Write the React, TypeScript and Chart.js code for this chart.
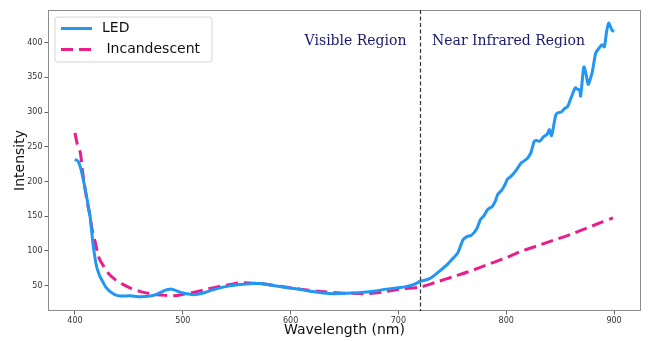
import React, { useEffect, useRef } from 'react';
import { Chart, registerables } from 'chart.js';

Chart.register(...registerables);

const ledWavelengths = [400,403,406,409,412,414,417,420,423,425,429,433,437,442,451,460,470,475,479,484,488,492,496,500,505,510,515,519,528,541,553,565,572,585,597,609,620,630,640,652,665,677,689,700,708,714,720,726,730,735,739,745,751,755,760,764,767,770,773,776,779,783,787,790,792,796,799,801,804,807,810,814,817,820,823,826,828,831,835,838,840,842,846,848,851,854,857,860,864,866,868,869,872,874,876,878,880,883,886,889,891,893,895,897,898,900];
const ledIntensity = [232,229,215,193,168,150,107,78,64,58,47,41,37,35,35.5,34,35,37,40,43.5,45,44,41.5,39.5,38,37,38,39.5,44,49,51.5,53,53,50,47,44.5,41.5,39.5,38.5,39,40,42,45,47,49,51.5,56,58.5,61,67,72,80,90,97,116,121,122,126,133,145,150,160,164,172,181,188,196,203,207,212,218,227,230,234,242,258,259,258,265,268,275,266,296,299,300,305,308,320,335,333,332,323,365,355,340,348,359,385,392,397,394,415,428,422,418,416];

const incWavelengths = [400,402,405,407,409,412,414,416,419,421,423,427,432,438,445,452,460,468,476,484,491,499,507,515,522,530,538,545,553,562,572,590,609,628,646,660,671,686,702,720,735,751,765,782,798,814,830,845,860,875,888,899];
const incIntensity = [270,255,241,215,193,165,150,130,111.5,97,87.5,77,66,58,51.4,46,41.8,39,37,36,35.6,37,39.5,42,45,47.5,50,52,54,54,53,49,45,41.5,39.5,38.8,38.5,41,45,48,55,63,70,80,89,99.5,108,116,124,133,141,147.5];

const xTicks = [400, 500, 600, 700, 800, 900];
const yTicks = [50, 100, 150, 200, 250, 300, 350, 400];
const seriesLabels = ['LED', ' Incandescent'];
const regionLabels = ['Visible Region', 'Near Infrared Region'];
const boundaryWavelength = 720;

const LED_COLOR = '#2196F3';
const INC_COLOR = '#E91E8C';
const INC_DASH = [12, 6];

const overlayPlugin = {
  id: 'overlay',
  afterDraw(chart: any) {
    const { ctx, chartArea, scales } = chart;
    const xs = scales.x;
    ctx.save();
    // frame
    ctx.strokeStyle = '#8c8c8c';
    ctx.lineWidth = 1;
    ctx.setLineDash([]);
    ctx.strokeRect(chartArea.left + 0.5, chartArea.top + 0.5, chartArea.right - chartArea.left - 1, chartArea.bottom - chartArea.top - 1);

    // boundary line
    const bx = Math.round(xs.getPixelForValue(boundaryWavelength)) + 0.5;
    ctx.strokeStyle = '#333';
    ctx.lineWidth = 1.2;
    ctx.setLineDash([4, 2.5]);
    ctx.beginPath();
    ctx.moveTo(bx, chartArea.top);
    ctx.lineTo(bx, chartArea.bottom);
    ctx.stroke();
    ctx.setLineDash([]);

    // region labels
    ctx.font = '14px "DejaVu Serif"';
    ctx.fillStyle = '#191970';
    ctx.textBaseline = 'alphabetic';
    ctx.textAlign = 'right';
    ctx.fillText(regionLabels[0], bx - 14, 44.5);
    ctx.textAlign = 'left';
    ctx.fillText(regionLabels[1], bx + 11.5, 44.5);

    // legend
    const lx = 55, ly = 17, lw = 157, lh = 45;
    ctx.beginPath();
    const r = 3;
    ctx.moveTo(lx + r, ly);
    ctx.lineTo(lx + lw - r, ly);
    ctx.quadraticCurveTo(lx + lw, ly, lx + lw, ly + r);
    ctx.lineTo(lx + lw, ly + lh - r);
    ctx.quadraticCurveTo(lx + lw, ly + lh, lx + lw - r, ly + lh);
    ctx.lineTo(lx + r, ly + lh);
    ctx.quadraticCurveTo(lx, ly + lh, lx, ly + lh - r);
    ctx.lineTo(lx, ly + r);
    ctx.quadraticCurveTo(lx, ly, lx + r, ly);
    ctx.closePath();
    ctx.fillStyle = 'rgba(255,255,255,0.85)';
    ctx.fill();
    ctx.strokeStyle = '#d6d6d6';
    ctx.lineWidth = 1;
    ctx.stroke();

    const rows = [
      { y: 28.5, color: LED_COLOR, dash: [] as number[] },
      { y: 49.5, color: INC_COLOR, dash: INC_DASH },
    ];
    rows.forEach((row, i) => {
      ctx.strokeStyle = row.color;
      ctx.lineWidth = 3;
      ctx.setLineDash(row.dash);
      ctx.beginPath();
      ctx.moveTo(61, row.y);
      ctx.lineTo(92, row.y);
      ctx.stroke();
      ctx.setLineDash([]);
      ctx.font = '14px "DejaVu Sans"';
      ctx.fillStyle = '#111';
      ctx.textAlign = 'left';
      ctx.textBaseline = 'middle';
      ctx.fillText(seriesLabels[i], 102, row.y);
    });
    ctx.restore();
  },
};

export default function App() {
  const canvasRef = useRef<HTMLCanvasElement | null>(null);

  useEffect(() => {
    document.body.style.margin = '0';
    const canvas = canvasRef.current;
    if (!canvas) return;
    const tickFont = { family: 'DejaVu Sans', size: 8 };
    const titleFont = { family: 'DejaVu Sans', size: 14 };
    const chart = new Chart(canvas, {
      type: 'line',
      data: {
        datasets: [
          {
            label: seriesLabels[0],
            data: ledWavelengths.map((x, i) => ({ x, y: ledIntensity[i] })),
            borderColor: LED_COLOR,
            borderWidth: 3,
            pointRadius: 0,
            tension: 0.25,
            fill: false,
          },
          {
            label: seriesLabels[1],
            data: incWavelengths.map((x, i) => ({ x, y: incIntensity[i] })),
            borderColor: INC_COLOR,
            borderWidth: 3,
            borderDash: INC_DASH,
            pointRadius: 0,
            tension: 0.3,
            fill: false,
          },
        ],
      },
      options: {
        responsive: false,
        animation: false,
        devicePixelRatio: 1,
        layout: { padding: { top: 10, right: 7, left: 0, bottom: 0 } },
        plugins: { legend: { display: false }, tooltip: { enabled: false } },
        scales: {
          x: {
            type: 'linear',
            min: 375,
            max: 925,
            afterFit: (s: any) => { s.height = 30; },
            afterBuildTicks: (s: any) => { s.ticks = xTicks.map((v) => ({ value: v })); },
            grid: { drawOnChartArea: false, drawTicks: true, tickLength: 3.5, color: '#666' },
            border: { display: false },
            ticks: { font: tickFont, color: '#333', padding: 2, maxRotation: 0, autoSkip: false },
            title: { display: true, text: 'Wavelength (nm)', font: titleFont, color: '#111', padding: { top: 0, bottom: 2 } },
          },
          y: {
            type: 'linear',
            min: 13.5,
            max: 447,
            afterFit: (s: any) => { s.width = 48; },
            afterBuildTicks: (s: any) => { s.ticks = yTicks.map((v) => ({ value: v })); },
            grid: { drawOnChartArea: false, drawTicks: true, tickLength: 3.5, color: '#666' },
            border: { display: false },
            ticks: { font: tickFont, color: '#333', padding: 2, autoSkip: false },
            title: { display: true, text: 'Intensity', font: titleFont, color: '#111', padding: { top: 12, bottom: 0 } },
          },
        },
      },
      plugins: [overlayPlugin],
    } as any);
    return () => chart.destroy();
  }, []);

  return (
    <div style={{ width: 648, height: 341 }}>
      <canvas ref={canvasRef} width={648} height={341} style={{ display: 'block', width: 648, height: 341 }} />
    </div>
  );
}
